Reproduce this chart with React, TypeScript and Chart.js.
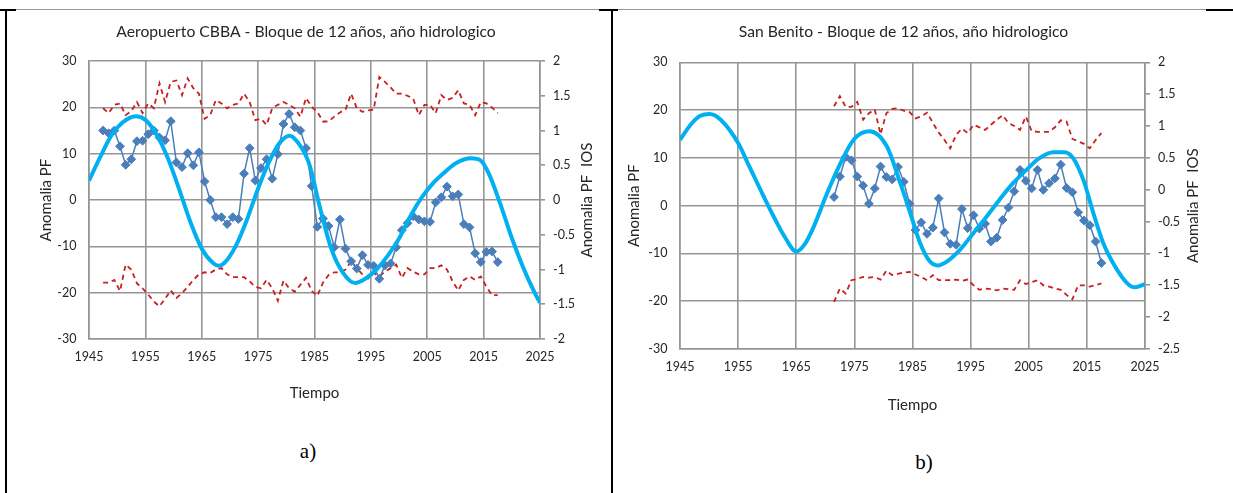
import React, { useEffect, useRef } from 'react';
import { Chart, registerables } from 'chart.js';

Chart.register(...registerables);

// ---------- Data: chart a) Aeropuerto CBBA ----------
const FIRST_YEAR_A = 1947;
const pfA = [
  15.0, 14.4, 15.0, 11.6, 7.6, 8.8, 12.7, 12.8, 14.2, 15.0,
  13.5, 12.9, 17.0, 8.1, 7.1, 10.1, 7.5, 10.3, 4.0, 0.0,
  -3.7, -3.7, -5.2, -3.7, -4.1, 5.7, 11.2, 4.2, 6.9, 8.8,
  4.6, 9.9, 16.4, 18.6, 15.7, 15.0, 11.2, 3.0, -5.8, -4.0,
  -5.6, -10.2, -4.2, -10.5, -13.2, -14.8, -11.9, -14.0, -14.2, -17.0,
  -14.1, -13.7, -10.2, -6.5, -5.0, -3.5, -4.2, -4.6, -4.7, -0.5,
  0.6, 2.9, 0.8, 1.2, -5.2, -5.9, -11.5, -13.4, -11.2, -11.1,
  -13.4,
];
const iosUpA = [
  1.32, 1.25, 1.37, 1.39, 1.22, 1.28, 1.41, 1.25, 1.39, 1.32,
  1.68, 1.41, 1.70, 1.72, 1.51, 1.75, 1.61, 1.53, 1.17, 1.22,
  1.44, 1.39, 1.32, 1.37, 1.39, 1.53, 1.41, 1.15, 1.17, 1.08,
  1.32, 1.37, 1.41, 1.37, 1.32, 1.20, 1.47, 1.34, 1.27, 1.13,
  1.13, 1.20, 1.26, 1.30, 1.53, 1.32, 1.27, 1.29, 1.30, 1.77,
  1.70, 1.62, 1.53, 1.53, 1.50, 1.46, 1.22, 1.37, 1.37, 1.25,
  1.51, 1.44, 1.47, 1.58, 1.39, 1.37, 1.22, 1.41, 1.39, 1.33,
  1.25,
];
const iosLowA = [
  -1.19, -1.19, -1.15, -1.31, -0.93, -1.0, -1.2, -1.27, -1.36, -1.46,
  -1.53, -1.42, -1.3, -1.41, -1.34, -1.25, -1.15, -1.07, -1.04, -1.05,
  -1.0, -0.98, -1.07, -1.11, -1.11, -1.11, -1.17, -1.25, -1.27, -1.15,
  -1.27, -1.45, -1.16, -1.27, -1.32, -1.22, -1.12, -1.31, -1.38, -1.19,
  -1.08, -1.04, -1.04, -1.0, -0.88, -0.98, -1.07, -1.13, -1.05, -1.1,
  -1.03, -0.98, -0.93, -1.12, -0.98, -1.03, -1.07, -1.07, -0.98, -0.98,
  -0.94, -1.0, -1.17, -1.3, -1.15, -1.1, -1.15, -1.1, -1.25, -1.37,
  -1.37,
];
const curveAYears = [
  1945, 1947, 1949, 1951, 1953.3, 1955, 1957, 1959, 1961, 1963,
  1965, 1967, 1968, 1969, 1971, 1973, 1975, 1977, 1979, 1980.6,
  1982, 1984, 1986, 1988, 1990, 1992.2, 1994, 1996, 1998, 2000,
  2002, 2004, 2006, 2008, 2010, 2012.8, 2014.5, 2016, 2018, 2020,
  2022, 2024, 2025,
];
const curveAVals = [
  4.2, 9.3, 14.0, 16.8, 18.1, 17.3, 14.1, 9.0, 2.3, -4.8,
  -10.5, -13.6, -14.2, -13.6, -10.0, -4.3, 2.5, 8.4, 12.6, 13.9,
  12.5, 8.0, -1.8, -10.6, -15.6, -17.9, -17.0, -15.0, -12.0, -8.3,
  -3.5, 0.5, 3.6, 5.9, 7.9, 9.0, 8.5, 5.5, -1.0, -8.2,
  -14.5, -19.9, -22.2,
];

// ---------- Data: chart b) San Benito ----------
const FIRST_YEAR_B = 1971;
const pfB = [
  1.8, 6.1, 10.2, 9.5, 6.1, 4.2, 0.4, 3.6, 8.2, 6.0,
  5.5, 8.1, 5.0, 0.4, -5.1, -3.5, -5.9, -4.6, 1.5, -5.6,
  -8.0, -8.2, -0.7, -4.7, -2.0, -4.8, -3.8, -7.5, -6.7, -3.0,
  -0.4, 3.0, 7.5, 5.2, 3.6, 7.5, 3.3, 4.7, 5.7, 8.6,
  3.7, 2.8, -1.4, -3.1, -4.1, -7.5, -12.0,
];
const iosUpB = [
  1.31, 1.47, 1.30, 1.30, 1.38, 1.10, 1.20, 1.26, 0.87, 1.20,
  1.27, 1.28, 1.24, 1.22, 1.12, 1.15, 1.21, 1.05, 0.90, 0.78,
  0.65, 0.86, 0.96, 0.89, 1.02, 0.98, 0.94, 1.02, 1.10, 1.17,
  1.05, 1.0, 0.94, 1.15, 0.92, 0.91, 0.91, 0.91, 0.98, 1.09,
  1.07, 0.80, 0.76, 0.72, 0.65, 0.78, 0.89,
];
const iosLowB = [
  -1.76, -1.55, -1.63, -1.42, -1.40, -1.37, -1.38, -1.37, -1.41, -1.27,
  -1.34, -1.32, -1.30, -1.29, -1.33, -1.37, -1.42, -1.34, -1.42, -1.42,
  -1.42, -1.41, -1.43, -1.41, -1.50, -1.57, -1.55, -1.56, -1.58, -1.55,
  -1.56, -1.57, -1.42, -1.48, -1.45, -1.42, -1.50, -1.52, -1.55, -1.57,
  -1.65, -1.72, -1.50, -1.50, -1.52, -1.50, -1.47,
];
const curveBYears = [
  1945, 1947, 1948.5, 1950.1, 1952, 1955, 1957, 1958.7, 1961, 1963,
  1965, 1966.5, 1967.9, 1970.2, 1972.5, 1975, 1977.6, 1980.6, 1982.9, 1984.6,
  1986.3, 1988, 1989.4, 1990.9, 1993.2, 1995.5, 1997.8, 2000, 2002.3, 2004.6,
  2006.9, 2009.2, 2011.2, 2012.6, 2014.4, 2016.1, 2017.8, 2019.5, 2021.9, 2023.3,
  2025,
];
const curveBVals = [
  13.8, 17.2, 18.8, 19.2, 18.0, 13.1, 8.0, 3.7, -2.0, -6.5,
  -9.6, -8.0, -4.7, 2.3, 8.6, 14.0, 15.6, 12.4, 4.7, -1.5,
  -7.8, -11.7, -12.5, -11.7, -9.2, -5.7, -2.2, 1.3, 4.7, 7.5,
  10.0, 11.2, 11.2, 10.0, 5.4, -1.5, -7.8, -12.0, -16.2, -17.1,
  -16.4,
];

const HYDRO_MID = 0.5; // values plotted at the middle of each hydrological year

const GRID = '#959595';
const TEXT = '#262626';
const FONT = 'Lato, "Open Sans", sans-serif';

const toPts = (first: number, vals: number[]) =>
  vals.map((v, i) => ({ x: first + i + HYDRO_MID, y: v }));
const toCurve = (xs: number[], ys: number[]) => xs.map((x, i) => ({ x, y: ys[i] }));

const rightTitlePlugin = {
  id: 'rightTitle',
  afterDraw(chart: any, _a: any, opts: any) {
    const { ctx, chartArea } = chart;
    ctx.save();
    ctx.font = `${opts.size}px ${FONT}`;
    ctx.fillStyle = TEXT;
    ctx.textAlign = 'center';
    ctx.textBaseline = 'middle';
    ctx.translate(opts.x, (chartArea.top + chartArea.bottom) / 2);
    ctx.rotate(-Math.PI / 2);
    ctx.fillText(opts.text, 0, 0);
    ctx.restore();
  },
};

type PanelProps = {
  left: number; top: number; width: number; height: number;
  padRight: number; leftW: number; rightW: number; xH: number;
  title: string; titlePadTop: number; titlePadBottom: number;
  xTitlePadBottom: number; yTitlePadTop: number; rightTitleX: number;
  y1Min: number; y1Max: number;
  pf: { x: number; y: number }[]; up: { x: number; y: number }[];
  low: { x: number; y: number }[]; curve: { x: number; y: number }[];
};

function Panel(p: PanelProps) {
  const ref = useRef<HTMLCanvasElement | null>(null);
  useEffect(() => {
    if (!ref.current) return;
    const tickFont = { family: FONT, size: 12.5 };
    const titleFont = { family: FONT, size: 15 };
    const chart = new Chart(ref.current, {
      type: 'line',
      data: {
        datasets: [
          {
            label: 'Ajuste', data: p.curve, borderColor: '#00B0F0', borderWidth: 4,
            pointRadius: 0, cubicInterpolationMode: 'monotone', yAxisID: 'y', order: 0,
          },
          {
            label: 'Anomalia PF', data: p.pf, borderColor: '#4A7EBB', backgroundColor: '#4A7EBB',
            borderWidth: 1.5, pointStyle: 'rectRot', pointRadius: 4.4, pointBorderWidth: 1,
            yAxisID: 'y', order: 1,
          },
          {
            label: 'IOS sup', data: p.up, borderColor: '#C8201E', borderWidth: 1.8,
            borderDash: [5, 4], pointRadius: 0, yAxisID: 'y1', order: 2,
          },
          {
            label: 'IOS inf', data: p.low, borderColor: '#C8201E', borderWidth: 1.8,
            borderDash: [5, 4], pointRadius: 0, yAxisID: 'y1', order: 2,
          },
        ],
      } as any,
      options: {
        responsive: false,
        animation: false,
        layout: { padding: { left: 0, right: p.padRight, top: 0, bottom: 0 } },
        plugins: {
          legend: { display: false },
          tooltip: { enabled: false },
          title: {
            display: true, text: p.title, color: TEXT,
            font: { family: FONT, size: 15.7, weight: 'normal' },
            padding: { top: p.titlePadTop, bottom: p.titlePadBottom },
          },
          rightTitle: { text: 'Anomalia PF  IOS', x: p.rightTitleX, size: 15 },
        } as any,
        scales: {
          x: {
            type: 'linear', min: 1945, max: 2025,
            ticks: { stepSize: 10, callback: (v: any) => String(v), color: TEXT, font: tickFont, padding: 10.5, maxRotation: 0, autoSkip: false },
            grid: { color: GRID, lineWidth: 1.6, drawTicks: false },
            border: { color: GRID, width: 1.6 },
            title: { display: true, text: 'Tiempo', color: TEXT, font: titleFont, padding: { top: 0, bottom: p.xTitlePadBottom } },
            afterFit: (s: any) => { s.height = p.xH; },
          },
          y: {
            position: 'left', min: -30, max: 30,
            ticks: { stepSize: 10, callback: (v: any) => String(v), color: TEXT, font: tickFont, padding: 12.5 },
            grid: { color: GRID, lineWidth: 1.6, drawTicks: false },
            border: { color: GRID, width: 1.6 },
            title: { display: true, text: 'Anomalia PF', color: TEXT, font: titleFont, padding: { top: p.yTitlePadTop, bottom: 0 } },
            afterFit: (s: any) => { s.width = p.leftW; },
          },
          y1: {
            position: 'right', min: p.y1Min, max: p.y1Max,
            ticks: { stepSize: 0.5, callback: (v: any) => String(v), color: TEXT, font: tickFont, padding: 8 },
            grid: { drawOnChartArea: false, drawTicks: true, tickLength: 5, color: GRID, lineWidth: 1.6 },
            border: { color: GRID, width: 1.6 },
            afterFit: (s: any) => { s.width = p.rightW; },
          },
        } as any,
      },
      plugins: [rightTitlePlugin],
    } as any);
    return () => chart.destroy();
  }, []);
  return (
    <canvas
      ref={ref}
      width={p.width}
      height={p.height}
      style={{ position: 'absolute', left: p.left, top: p.top, width: p.width, height: p.height }}
    />
  );
}

export default function App() {
  const black = '#000';
  return (
    <div style={{ position: 'absolute', left: 0, top: 0, width: 1233, height: 493, background: '#fff', overflow: 'hidden' }}>
      {/* table borders */}
      <div style={{ position: 'absolute', left: 0, top: 9, width: 1233, height: 1, background: '#9a9a9a' }} />
      <div style={{ position: 'absolute', left: 0, top: 9, width: 16, height: 2, background: black }} />
      <div style={{ position: 'absolute', left: 599, top: 9, width: 19, height: 2, background: black }} />
      <div style={{ position: 'absolute', left: 1206, top: 9, width: 27, height: 2, background: black }} />
      <div style={{ position: 'absolute', left: 5, top: 9, width: 2, height: 484, background: black }} />
      <div style={{ position: 'absolute', left: 611, top: 9, width: 2, height: 484, background: black }} />

      <Panel
        left={10} top={12} width={600} height={410}
        padRight={8} leftW={79} rightW={62} xH={83}
        title="Aeropuerto CBBA - Bloque de 12 años, año hidrologico"
        titlePadTop={10.6} titlePadBottom={19.6}
        xTitlePadBottom={20} yTitlePadTop={27} rightTitleX={577}
        y1Min={-2} y1Max={2}
        pf={toPts(FIRST_YEAR_A, pfA)} up={toPts(FIRST_YEAR_A, iosUpA)}
        low={toPts(FIRST_YEAR_A, iosLowA)} curve={toCurve(curveAYears, curveAVals)}
      />
      <Panel
        left={614} top={12} width={600} height={420}
        padRight={21} leftW={66} rightW={48} xH={83}
        title="San Benito - Bloque de 12 años, año hidrologico"
        titlePadTop={10.3} titlePadBottom={21.2}
        xTitlePadBottom={18} yTitlePadTop={11} rightTitleX={579}
        y1Min={-2.5} y1Max={2}
        pf={toPts(FIRST_YEAR_B, pfB)} up={toPts(FIRST_YEAR_B, iosUpB)}
        low={toPts(FIRST_YEAR_B, iosLowB)} curve={toCurve(curveBYears, curveBVals)}
      />

      <div style={{ position: 'absolute', left: 308, top: 451, transform: 'translate(-50%, -50%)', fontFamily: '"Liberation Serif", "Times New Roman", serif', fontSize: 21, color: '#000' }}>a)</div>
      <div style={{ position: 'absolute', left: 924, top: 462, transform: 'translate(-50%, -50%)', fontFamily: '"Liberation Serif", "Times New Roman", serif', fontSize: 21, color: '#000' }}>b)</div>
    </div>
  );
}
